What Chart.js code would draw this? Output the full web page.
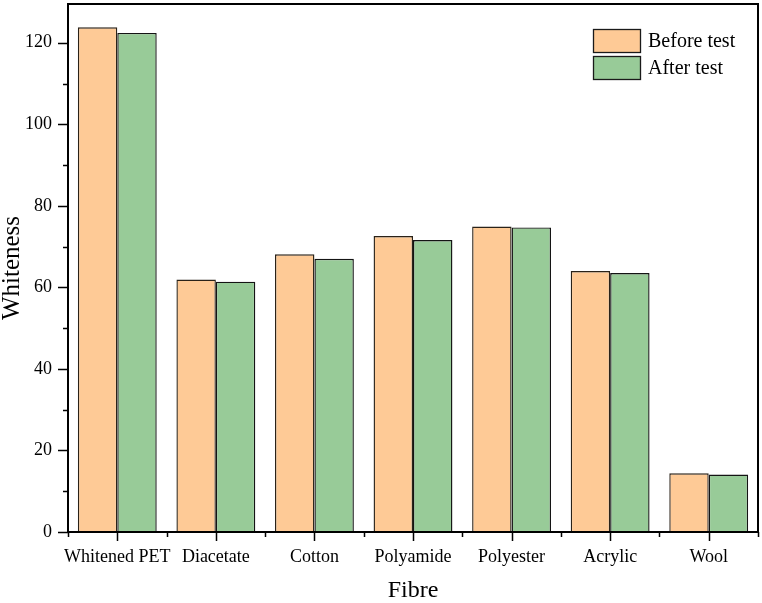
<!DOCTYPE html>
<html>
<head>
<meta charset="utf-8">
<script src="https://cdn.jsdelivr.net/npm/chart.js@4.4.0/dist/chart.umd.min.js"></script>
<style>
  html, body { margin: 0; padding: 0; background: #fff; }
  #wrap { width: 762px; height: 603px; }
</style>
</head>
<body>
<div id="wrap"><canvas id="c" width="762" height="603"></canvas></div>
<script>
const categories = ['Whitened PET', 'Diacetate', 'Cotton', 'Polyamide', 'Polyester', 'Acrylic', 'Wool'];
const beforeTest = [123.8, 61.9, 68.1, 72.6, 74.9, 64.0, 14.4];
const afterTest = [122.4, 61.4, 67.0, 71.6, 74.7, 63.5, 14.1];
const yTicks = [0, 20, 40, 60, 80, 100, 120];
const yMinorTicks = [10, 30, 50, 70, 90, 110];
const yMin = 0;
const yMax = 129.5;

const FONT = "'Liberation Serif', 'Times New Roman', serif";

const framePlugin = {
  id: 'frame',
  afterDraw(chart) {
    const ctx = chart.ctx;
    const a = chart.chartArea;
    const xs = chart.scales.x;
    const ys = chart.scales.y;
    ctx.save();
    ctx.strokeStyle = '#000';
    ctx.lineWidth = 2;
    ctx.strokeRect(a.left, a.top, a.right - a.left, a.bottom - a.top);
    ctx.lineWidth = 1.5;
    ctx.beginPath();
    yTicks.forEach(v => {
      const y = Math.round(ys.getPixelForValue(v)) + 0.5;
      ctx.moveTo(a.left - 10, y); ctx.lineTo(a.left, y);
    });
    yMinorTicks.forEach(v => {
      const y = Math.round(ys.getPixelForValue(v)) + 0.5;
      ctx.moveTo(a.left - 5, y); ctx.lineTo(a.left, y);
    });
    const n = categories.length;
    const step = (a.right - a.left) / n;
    categories.forEach((c, i) => {
      const x = Math.round(xs.getPixelForValue(i)) + 0.5;
      ctx.moveTo(x, a.bottom); ctx.lineTo(x, a.bottom + 9);
    });
    for (let i = 0; i <= n; i++) {
      const x = Math.round(a.left + i * step) + 0.5;
      ctx.moveTo(x, a.bottom); ctx.lineTo(x, a.bottom + 5);
    }
    ctx.stroke();

    // legend
    const ds = chart.data.datasets;
    const bx = 593, bw = 47, bh = 23;
    let by = 29;
    ctx.font = '20px ' + FONT;
    ctx.textBaseline = 'middle';
    ctx.textAlign = 'left';
    ds.forEach(d => {
      ctx.fillStyle = d.backgroundColor;
      ctx.fillRect(bx, by, bw, bh);
      ctx.lineWidth = 1.3;
      ctx.strokeStyle = '#1a1a1a';
      ctx.strokeRect(bx + 0.5, by + 0.5, bw, bh);
      ctx.fillStyle = '#000';
      ctx.fillText(d.label, 648, by + bh / 2 + 1);
      by += 27;
    });
    ctx.restore();
  }
};

new Chart(document.getElementById('c'), {
  type: 'bar',
  data: {
    labels: categories,
    datasets: [
      { label: 'Before test', data: beforeTest, backgroundColor: '#FECA96', borderColor: '#2a2218', borderWidth: 1.4, borderSkipped: 'bottom' },
      { label: 'After test', data: afterTest, backgroundColor: '#98CB98', borderColor: '#141414', borderWidth: 1.4, borderSkipped: 'bottom' }
    ]
  },
  options: {
    responsive: false,
    animation: false,
    devicePixelRatio: 1,
    layout: { padding: { top: 4, right: 4, left: 0, bottom: 0 } },
    datasets: { bar: { categoryPercentage: 0.8, barPercentage: 1.0 } },
    plugins: { legend: { display: false }, tooltip: { enabled: false } },
    scales: {
      x: {
        offset: true,
        grid: { display: false, drawTicks: false },
        border: { display: false },
        ticks: { color: '#000', font: { family: FONT, size: 18 }, padding: 14, maxRotation: 0, autoSkip: false },
        title: { display: true, text: 'Fibre', color: '#000', font: { family: FONT, size: 24, lineHeight: 1 }, padding: 0 },
        afterFit(scale) { scale.height = 71; scale.paddingLeft = 0; scale.paddingRight = 0; }
      },
      y: {
        min: yMin,
        max: yMax,
        grid: { display: false, drawTicks: false },
        border: { display: false },
        afterBuildTicks(scale) { scale.ticks = yTicks.map(v => ({ value: v })); },
        ticks: { color: '#000', font: { family: FONT, size: 18 }, padding: 16 },
        title: { display: true, text: 'Whiteness', color: '#000', font: { family: FONT, size: 25, lineHeight: 1 }, padding: 0 },
        afterFit(scale) { scale.width = 68; scale.paddingTop = 0; scale.paddingBottom = 0; }
      }
    }
  },
  plugins: [framePlugin]
});
</script>
</body>
</html>
